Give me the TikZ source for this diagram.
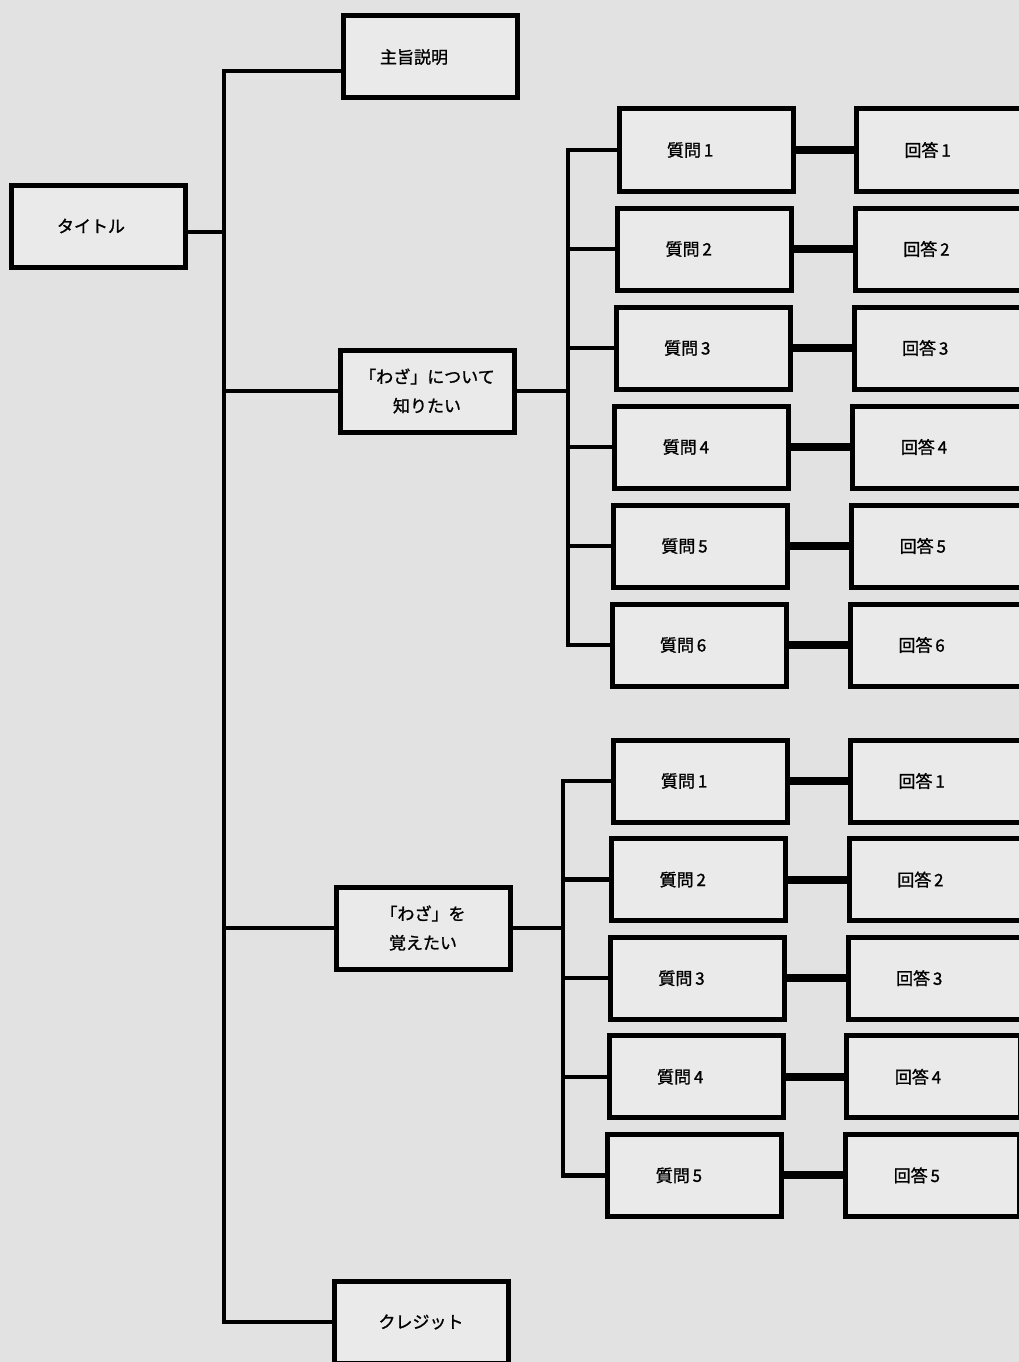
\documentclass[tikz,border=0pt]{standalone}
\usepackage{fontspec}
\setmainfont{Noto Sans CJK JP}[FakeBold=1.2, AutoFakeBold=1.2]
\usetikzlibrary{positioning}
\definecolor{papier}{RGB}{226,226,226}
\definecolor{kasten}{RGB}{234,234,234}
\begin{document}
\begin{tikzpicture}[x=1pt, y=-1pt,
				box/.style={draw, line width=5pt, fill=kasten, minimum width=174pt, minimum height=82pt,
					inner sep=0pt, align=center, font=\fontsize{17}{29}\selectfont\bfseries},
				links/.style 2 args={box, inner xsep=#1, text width=#2, align=left},
				karte/.style={links={48pt}{78pt}},
				ast/.style={line width=4.5pt, line cap=rect},
				dick/.style={line width=8pt}]
				% Papier
				\fill[papier] (0,0) rectangle (1019,1362);
				\useasboundingbox (0,0) rectangle (1019,1362);
				\clip (0,0) rectangle (1019,1362);
				% Stammknoten
				\node[links={46pt}{82pt}] (titel) at (98,226) {タイトル};
				\node[links={37pt}{100pt}] (zweck) at (430,57) {主旨説明};
				\node[box] (wissen) at (427,391)  {「わざ」について\\知りたい};
				\node[box] (lernen) at (423,928)  {「わざ」を\\覚えたい};
				\node[box] (credit) at (421,1322) {クレジット};
				% Stammlinien
				\coordinate (stamm)  at (224,0);
				\coordinate (stammA) at (568,0);
				\coordinate (stammB) at (563,0);
				\coordinate (zweckan) at ([yshift=-14pt]zweck.west);
				\coordinate (titelan) at ([yshift=-6pt]titel.east);
				\draw[ast] (stamm |- zweckan) -- (stamm |- credit.west);
				\draw[ast] (zweckan) -- (zweckan -| stamm);
				\draw[ast] (titelan) -- (titelan -| stamm);
				\foreach \n in {wissen, lernen, credit}
					\draw[ast] (\n.west) -- (\n.west -| stamm);
				% Fragen und Antworten (erste Gruppe)
				\foreach \i in {1,...,6} {
					\pgfmathsetmacro{\y}{150+99*(\i-1)}
					\node[karte] (qa\i) at ({706-1.4*(\i-1)},\y) {質問\,\i};
					\node[karte] (aa\i) at ({943.5-1.2*(\i-1)},\y) {回答\,\i};
					\draw[dick] (qa\i.east) -- (aa\i.west);
					\draw[ast] (qa\i.west) -- (qa\i.west -| stammA);
				}
				\draw[ast] (stammA |- qa1.west) -- (stammA |- qa6.west);
				\draw[ast] (wissen.east) -- (wissen.east -| stammA);
				% Fragen und Antworten (zweite Gruppe)
				\foreach \i in {1,...,5} {
					\pgfmathsetmacro{\y}{781+98.6*(\i-1)}
					\node[karte] (qb\i) at ({700-1.3*(\i-1)},\y) {質問\,\i};
					\node[karte] (ab\i) at ({937.5-1.2*(\i-1)},\y) {回答\,\i};
					\draw[dick] (qb\i.east) -- (ab\i.west);
					\draw[ast] (qb\i.west) -- (qb\i.west -| stammB);
				}
				\draw[ast] (stammB |- qb1.west) -- (stammB |- qb5.west);
				\draw[ast] (lernen.east) -- (lernen.east -| stammB);
			\end{tikzpicture}
\end{document}
